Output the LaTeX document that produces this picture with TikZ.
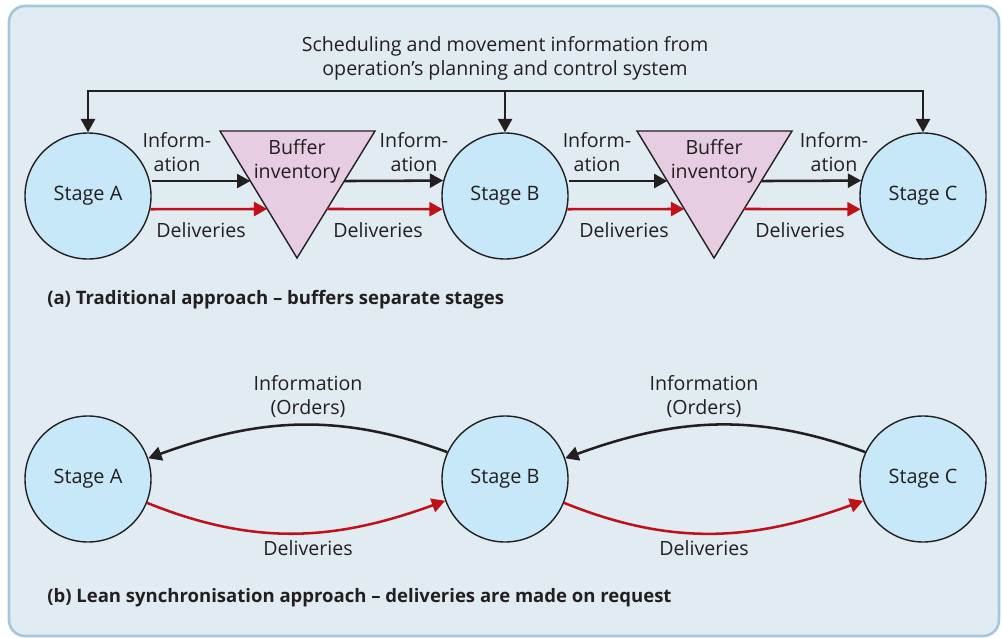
\documentclass[tikz,border=0pt]{standalone}
\usepackage{fontspec}
\setmainfont{Open Sans}
\usetikzlibrary{arrows.meta,calc}
\definecolor{bgc}{HTML}{E0EBF2}
\definecolor{frc}{HTML}{A6C7DA}
\definecolor{circc}{HTML}{C6E8F8}
\definecolor{trc}{HTML}{E6CDE2}
\definecolor{redc}{HTML}{C0111A}
\definecolor{inkc}{HTML}{231F20}
\tikzset{
  stage/.style={circle,draw=inkc,line width=1.05pt,fill=circc,minimum size=94.5pt,inner sep=0pt,font=\fontsize{14.9}{17}\selectfont,text=inkc},
  buf/.style={draw=inkc,line width=1.05pt,fill=trc},
  lbl/.style={font=\fontsize{14.7}{18}\selectfont,text=inkc,align=center,inner sep=0pt},
  captext/.style={font=\bfseries\fontsize{13.9}{16}\selectfont,text=inkc,anchor=west,inner sep=0pt},
  info/.style={draw=inkc,line width=1.9pt,-{Triangle[length=10pt,width=10.5pt]}},
  deliv/.style={draw=redc,line width=1.9pt,-{Triangle[length=10pt,width=10.5pt]}},
}
\begin{document}
\begin{tikzpicture}[x=0.75pt,y=0.75pt]
\useasboundingbox (0,0) rectangle (1002,-638);
\draw[frc,line width=2pt,fill=bgc,rounded corners=12pt] (9,-6) rectangle (999,-636);
% top part
\node[stage] (A) at (88,-196) {Stage A};
\node[stage] (B) at (505,-196) {Stage B};
\node[stage] (C) at (923,-196) {Stage C};
% buffers
\coordinate (b1l) at (220,-131); \coordinate (b1r) at (375,-131); \coordinate (b1a) at (297,-258);
\coordinate (b2l) at (637,-131); \coordinate (b2r) at (792,-131); \coordinate (b2a) at (714,-258);
\draw[buf] (b1l) -- (b1r) -- (b1a) -- cycle;
\draw[buf] (b2l) -- (b2r) -- (b2a) -- cycle;
\node[lbl] (bt1) at (297,-161) {Buffer\\inventory};
\node[lbl] (bt2) at (714,-161) {Buffer\\inventory};
% edge points
\coordinate (b1li) at ($(b1l)!0.394!(b1a)$);
\coordinate (b1ld) at ($(b1l)!0.614!(b1a)$);
\coordinate (b1ri) at ($(b1r)!0.394!(b1a)$);
\coordinate (b1rd) at ($(b1r)!0.614!(b1a)$);
\coordinate (b2li) at ($(b2l)!0.394!(b2a)$);
\coordinate (b2ld) at ($(b2l)!0.614!(b2a)$);
\coordinate (b2ri) at ($(b2r)!0.394!(b2a)$);
\coordinate (b2rd) at ($(b2r)!0.614!(b2a)$);
% top scheduling
\node[lbl] (sched) at (505,-58) {Scheduling and movement information from\\operation's planning and control system};
\coordinate (tl) at (88,-91); \coordinate (tr) at (923,-91); \coordinate (tm) at (505,-91);
\draw[info] (tm) -- (tl) -- (A.north);
\draw[info] (tm) -- (tr) -- (C.north);
\draw[info] (tm) -- (B.north);
% horizontal flows
\draw[info] (A.east |- b1li) -- (b1li);
\draw[deliv] (A.-12) -- (b1ld);
\draw[info] (b1ri) -- (B.166);
\draw[deliv] (b1rd) -- (B.192);
\draw[info] (B.east |- b2li) -- (b2li);
\draw[deliv] (B.-12) -- (b2ld);
\draw[info] (b2ri) -- (C.166);
\draw[deliv] (b2rd) -- (C.192);
\node[lbl] (i1) at (177,-152) {Inform-\\ation};
\node[lbl] (i2) at (414,-152) {Inform-\\ation};
\node[lbl] (i3) at (597,-152) {Inform-\\ation};
\node[lbl] (i4) at (834,-152) {Inform-\\ation};
\node[lbl] (d1) at (201,-230) {Deliveries};
\node[lbl] (d2) at (378,-230) {Deliveries};
\node[lbl] (d3) at (624,-230) {Deliveries};
\node[lbl] (d4) at (800,-230) {Deliveries};
\node[captext] (capa) at (47,-300) {(a) Traditional approach – buffers separate stages};
% lower part
\node[stage] (A2) at (88,-479) {Stage A};
\node[stage] (B2) at (505,-479) {Stage B};
\node[stage] (C2) at (923,-479) {Stage C};
\draw[info] (B2.155) to[out=160,in=20] (A2.19);
\draw[info] (C2.155) to[out=160,in=20] (B2.19);
\draw[deliv] (A2.-22) to[out=-22,in=200] (B2.200);
\draw[deliv] (B2.-22) to[out=-22,in=200] (C2.200);
\node[lbl] (o1) at (308,-397) {Information\\(Orders)};
\node[lbl] (o2) at (704,-397) {Information\\(Orders)};
\node[lbl] (e1) at (308,-548) {Deliveries};
\node[lbl] (e2) at (704,-548) {Deliveries};
\node[captext] (capb) at (47,-598) {(b) Lean synchronisation approach – deliveries are made on request};
\end{tikzpicture}
\end{document}
